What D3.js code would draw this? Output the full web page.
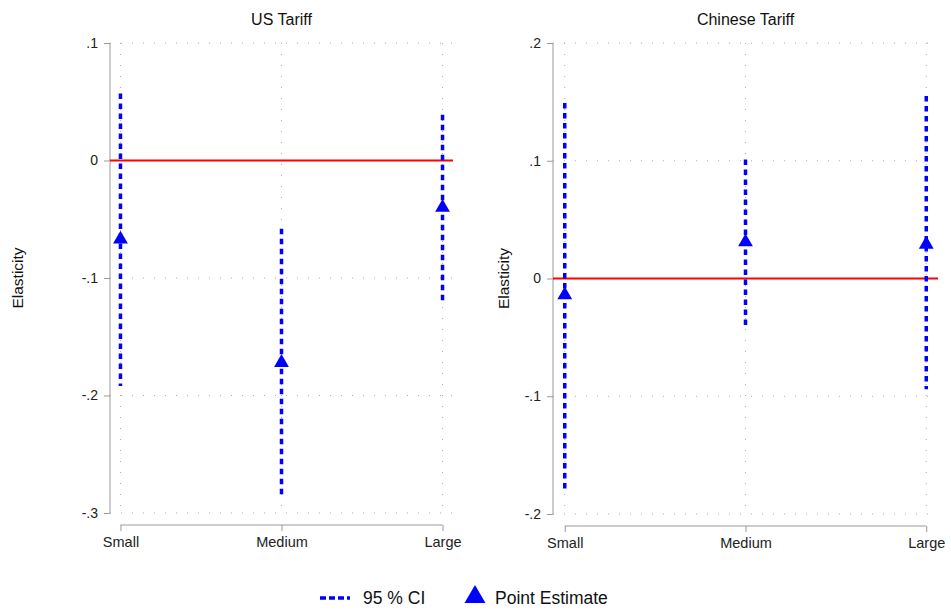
<!DOCTYPE html>
<html>
<head>
<meta charset="utf-8">
<script src="https://cdn.jsdelivr.net/npm/d3@7"></script>
<style>
  body { margin: 0; background: #fff; }
  svg { display: block; font-family: "Liberation Sans", Arial, sans-serif; }
</style>
</head>
<body>
<svg id="chart" width="951" height="613"></svg>
<script>
// Firm-size categories on the x axis
const categories = ["Small", "Medium", "Large"];

// US tariff elasticities: point estimates and 95% confidence bounds
const usPoint = [-0.067, -0.172, -0.040];
const usLower = [-0.192, -0.287, -0.122];
const usUpper = [0.057, -0.058, 0.039];
const usTicks = [0.1, 0, -0.1, -0.2, -0.3];

// Chinese tariff elasticities: point estimates and 95% confidence bounds
const cnPoint = [-0.014, 0.031, 0.029];
const cnLower = [-0.181, -0.041, -0.094];
const cnUpper = [0.149, 0.101, 0.155];
const cnTicks = [0.2, 0.1, 0, -0.1, -0.2];

const svg = d3.select("#chart");
// Stata-style labels: ".1", "0", "-.1"
const fmt = v => {
  if (v === 0) return "0";
  const s = Math.abs(v).toFixed(1).replace(/^0/, "");
  return (v < 0 ? "-" : "") + s;
};

function panel(cfg) {
  const g = svg.append("g");
  const x = d3.scalePoint().domain(categories).range([cfg.left, cfg.right]).padding(0.065);
  const y = d3.scaleLinear().domain(cfg.domain).range([cfg.bottom, cfg.top]);

  // dotted grid
  g.selectAll(".hg").data(cfg.ticks).join("line")
    .attr("x1", cfg.left).attr("x2", cfg.right)
    .attr("y1", d => y(d)).attr("y2", d => y(d))
    .attr("stroke", "#aaa").attr("stroke-width", 1).attr("stroke-dasharray", "1,10");
  g.selectAll(".vg").data(categories).join("line")
    .attr("x1", d => x(d)).attr("x2", d => x(d))
    .attr("y1", cfg.top).attr("y2", cfg.bottom)
    .attr("stroke", "#aaa").attr("stroke-width", 1).attr("stroke-dasharray", "1,10");

  // y axis
  const ya = g.append("g").attr("transform", `translate(${cfg.left},0)`)
    .call(d3.axisLeft(y).tickValues(cfg.ticks).tickFormat(fmt).tickSize(6).tickPadding(6));
  ya.select(".domain").attr("stroke", "#999").attr("d", `M0,${cfg.top}V${cfg.bottom}`);
  ya.selectAll(".tick line").attr("stroke", "#999");
  ya.selectAll(".tick text").attr("fill", "#222").style("font-size", "14px");

  // x axis
  const xa = g.append("g").attr("transform", `translate(0,${cfg.bottom + 12})`)
    .call(d3.axisBottom(x).tickSize(6).tickPadding(6));
  xa.select(".domain").attr("stroke", "#999")
    .attr("d", `M${x(categories[0])},0H${x(categories[2])}`);
  xa.selectAll(".tick line").attr("stroke", "#999");
  xa.selectAll(".tick text").attr("fill", "#222").style("font-size", "14.5px");

  // zero reference line
  g.append("line")
    .attr("x1", cfg.left).attr("x2", cfg.right)
    .attr("y1", y(0)).attr("y2", y(0))
    .attr("stroke", "#ff0000").attr("stroke-width", 2);

  // confidence intervals
  g.selectAll(".ci").data(categories).join("line")
    .attr("x1", d => x(d)).attr("x2", d => x(d))
    .attr("y1", (d, i) => y(cfg.upper[i])).attr("y2", (d, i) => y(cfg.lower[i]))
    .attr("stroke", "#0000ff").attr("stroke-width", 3.5).attr("stroke-dasharray", "5.5,4.5");

  // point estimates
  const tri = d3.symbol().type(d3.symbolTriangle).size(95);
  g.selectAll(".pt").data(categories).join("path")
    .attr("d", tri)
    .attr("transform", (d, i) => `translate(${x(d)},${y(cfg.point[i])})`)
    .attr("fill", "#0000ff");

  // titles
  g.append("text").attr("x", (cfg.left + cfg.right) / 2).attr("y", 25)
    .attr("text-anchor", "middle").style("font-size", "16px").attr("fill", "#111")
    .text(cfg.title);
  g.append("text")
    .attr("transform", `translate(${cfg.ylabX},${(cfg.top + cfg.bottom) / 2}) rotate(-90)`)
    .attr("text-anchor", "middle").style("font-size", "15.5px").attr("fill", "#111")
    .text("Elasticity");
}

panel({ title: "US Tariff", left: 110, right: 453, top: 43, bottom: 513,
        domain: [-0.3, 0.1], ticks: usTicks,
        point: usPoint, lower: usLower, upper: usUpper, ylabX: 23 });
panel({ title: "Chinese Tariff", left: 553, right: 938, top: 43, bottom: 514,
        domain: [-0.2, 0.2], ticks: cnTicks,
        point: cnPoint, lower: cnLower, upper: cnUpper, ylabX: 509 });

// legend
const lg = svg.append("g");
lg.append("line").attr("x1", 320).attr("x2", 350).attr("y1", 598).attr("y2", 598)
  .attr("stroke", "#0000ff").attr("stroke-width", 3.5).attr("stroke-dasharray", "6,3");
lg.append("text").attr("x", 363).attr("y", 604).style("font-size", "17.5px").attr("fill", "#111").text("95 % CI");
lg.append("path").attr("d", d3.symbol().type(d3.symbolTriangle).size(190))
  .attr("transform", "translate(475,597)").attr("fill", "#0000ff");
lg.append("text").attr("x", 495).attr("y", 604).style("font-size", "17.5px").attr("fill", "#111").text("Point Estimate");
</script>
</body>
</html>
